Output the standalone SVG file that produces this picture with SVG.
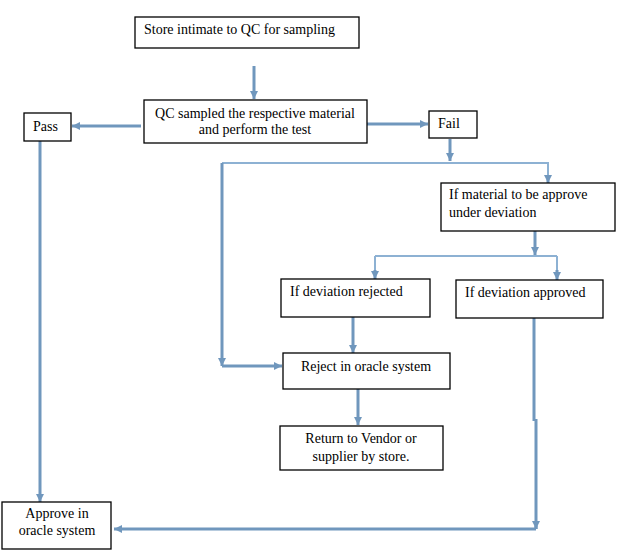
<svg xmlns="http://www.w3.org/2000/svg" width="636" height="555" viewBox="0 0 636 555">
<style>
.box{fill:#fff;stroke:#000;stroke-width:1.3}
.t{font-family:"Liberation Serif","Times New Roman",serif;font-size:14px;fill:#000}
.c{text-anchor:middle}
.con{fill:none;stroke:#7097BD;stroke-width:3}
.thin{fill:none;stroke:#8DB1D3;stroke-width:2}
</style>
<defs>
<marker id="ah" viewBox="0 0 10 10" refX="10" refY="5" markerWidth="8" markerHeight="8" markerUnits="userSpaceOnUse" orient="auto">
<path d="M0,0 L10,5 L0,10 Z" fill="#7097BD"/>
</marker>
</defs>
<rect width="636" height="555" fill="#fff"/>
<g id="connectors">
<path class="con" d="M254,66 V99" marker-end="url(#ah)"/>
<path class="con" d="M141,126 H72" marker-end="url(#ah)"/>
<path class="con" d="M367,124 H428" marker-end="url(#ah)"/>
<path class="con" d="M450,139 V161" marker-end="url(#ah)"/>
<path class="thin" d="M222,163 H548 V177"/>
<path class="con" d="M548,176 V183" marker-end="url(#ah)"/>
<path class="con" d="M222,163 V366" marker-end="url(#ah)"/>
<path class="con" d="M222,366 H282" marker-end="url(#ah)"/>
<path class="con" d="M535,231 V255" marker-end="url(#ah)"/>
<path class="thin" d="M375,256 H557"/>
<path class="thin" d="M375,256 V272"/>
<path class="con" d="M375,270 V279" marker-end="url(#ah)"/>
<path class="thin" d="M557,256 V272"/>
<path class="con" d="M557,270 V280" marker-end="url(#ah)"/>
<path class="con" d="M353,317 V353" marker-end="url(#ah)"/>
<path class="con" d="M358,389 V425" marker-end="url(#ah)"/>
<path class="con" d="M534,318 V421 M536,419 V529" />
<path class="con" d="M536,526 V529" marker-end="url(#ah)"/>
<path class="con" d="M536,529 H114" marker-end="url(#ah)"/>
<path class="con" d="M40,141 V502" marker-end="url(#ah)"/>
</g>
<g id="n1"><rect class="box" x="135" y="17" width="224" height="31"/><text class="t" x="144" y="34">Store intimate to QC for sampling</text></g>
<g id="n2"><rect class="box" x="144" y="100" width="223" height="43"/><text class="t c" x="255" y="118">QC sampled the respective material</text><text class="t c" x="255" y="134">and perform the test</text></g>
<g id="pass"><rect class="box" x="24" y="113" width="47" height="28"/><text class="t" x="33" y="131">Pass</text></g>
<g id="fail"><rect class="box" x="429" y="111" width="48" height="27"/><text class="t" x="438" y="128">Fail</text></g>
<g id="dev"><rect class="box" x="441" y="183" width="174" height="48"/><text class="t" x="449" y="199">If material to be approve</text><text class="t" x="449" y="217">under deviation</text></g>
<g id="rej"><rect class="box" x="281" y="279" width="149" height="38"/><text class="t" x="290" y="296">If deviation rejected</text></g>
<g id="appr"><rect class="box" x="456" y="280" width="147" height="38"/><text class="t" x="465" y="297">If deviation approved</text></g>
<g id="reject"><rect class="box" x="283" y="353" width="167" height="36"/><text class="t c" x="366" y="371">Reject in oracle system</text></g>
<g id="return"><rect class="box" x="280" y="426" width="163" height="44"/><text class="t c" x="361" y="443">Return to Vendor or</text><text class="t c" x="361" y="461">supplier by store.</text></g>
<g id="approve"><rect class="box" x="2" y="502" width="109" height="47"/><text class="t c" x="57" y="518">Approve in</text><text class="t c" x="57" y="535">oracle system</text></g>
</svg>
